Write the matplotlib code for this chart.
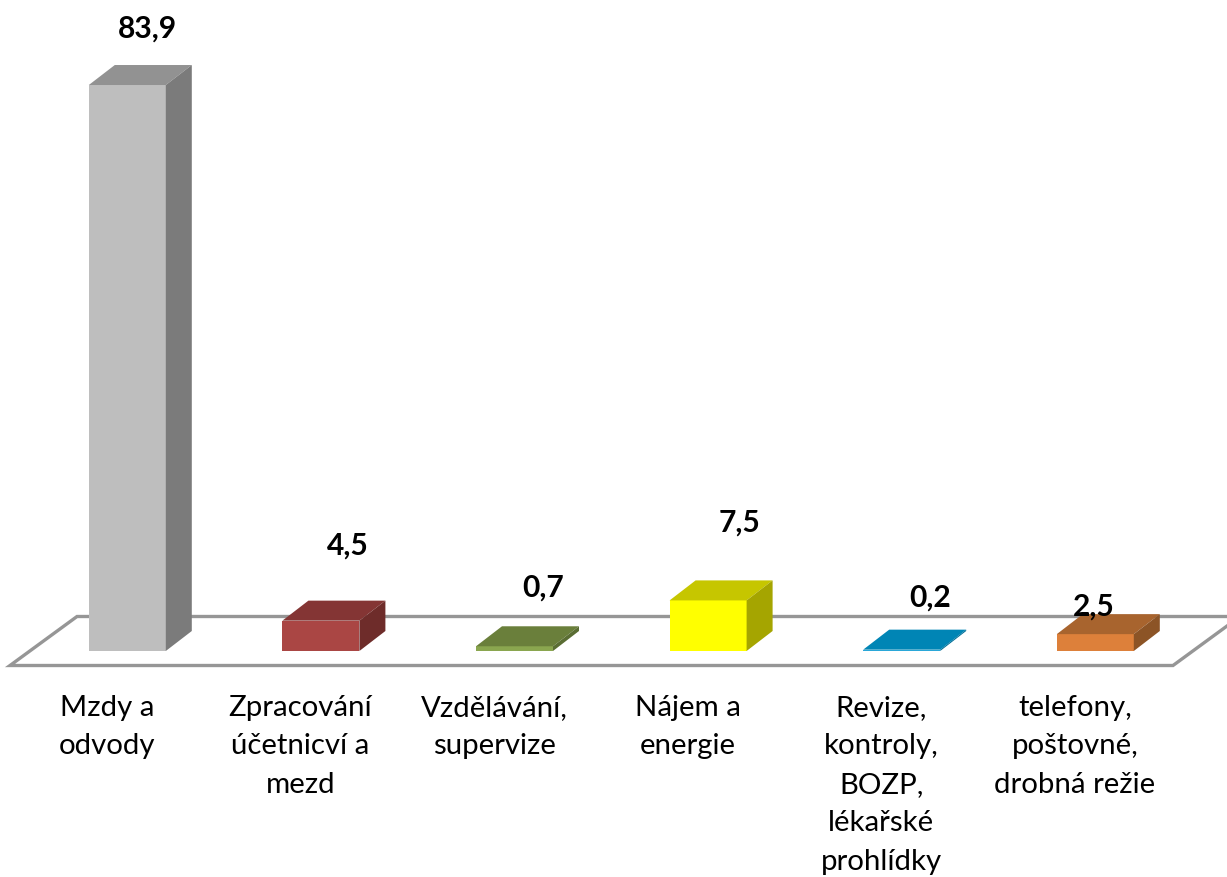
import matplotlib
matplotlib.use("Agg")
import matplotlib.pyplot as plt
from matplotlib.patches import Polygon

plt.rcParams['font.family'] = ['Lato', 'DejaVu Sans']

categories = ["Mzdy a\nodvody", "Zpracování\núčetnicví a\nmezd", "Vzdělávání,\nsupervize",
              "Nájem a\nenergie", "Revize,\nkontroly,\nBOZP,\nlékařské\nprohlídky",
              "telefony,\npoštovné,\ndrobná režie"]
values = [83.9, 4.5, 0.7, 7.5, 0.2, 2.5]
value_labels = ["83,9", "4,5", "0,7", "7,5", "0,2", "2,5"]

front_colors = ["#bebebe", "#aa4644", "#8aa64f", "#ffff00", "#2aa7d8", "#dd803a"]
top_colors = ["#929292", "#843534", "#6a7f3b", "#c6c600", "#0085b5", "#a8642e"]
side_colors = ["#7b7b7b", "#6e2c2a", "#5a6d33", "#a5a500", "#006f98", "#8c5426"]

# label offsets from the bar top, in pixels (the original placed them unevenly)
label_dx = [20.5, 26.5, 29, 31.5, 28, -2]
label_dy = [56, 75, 59, 78, 52, 28]

W, H = 1227, 877
PX_X = 193.6       # pixels per category
PX_Y = 6.746       # pixels per value unit
BASE = 651         # pixel row of value 0
X0 = 127.3         # pixel column of the first bar centre
AXES_BOTTOM = 690

fig = plt.figure(figsize=(W / 100, H / 100), dpi=100)
ax = fig.add_axes([0, 1 - AXES_BOTTOM / H, 1, AXES_BOTTOM / H])
ax.set_xlim(-X0 / PX_X, (W - X0) / PX_X)
ax.set_ylim((BASE - AXES_BOTTOM) / PX_Y, BASE / PX_Y)

bar_w = 77 / PX_X
dx = 26 / PX_X
dy = 20 / PX_Y


def px(x, y):
    return (x - X0) / PX_X, (BASE - y) / PX_Y


# floor
floor = [px(10, 665.5), px(77, 616.5), px(1240, 616.5), px(1173, 665.5)]
ax.add_patch(Polygon(floor, closed=True, facecolor="white", edgecolor="#969696", linewidth=2.4, zorder=1))

for i, v in enumerate(values):
    l = i - bar_w / 2
    r = i + bar_w / 2
    ax.bar(i, v, width=bar_w, color=front_colors[i], zorder=3)
    ax.add_patch(Polygon([(l, v), (r, v), (r + dx, v + dy), (l + dx, v + dy)], facecolor=top_colors[i], zorder=3))
    ax.add_patch(Polygon([(r, 0), (r + dx, dy), (r + dx, v + dy), (r, v)], facecolor=side_colors[i], zorder=3))
    ax.annotate(value_labels[i], (i, v), xytext=(label_dx[i] * 0.72, label_dy[i] * 0.72), textcoords="offset points",
                ha="center", va="center", fontsize=21.6, fontweight="bold", color="black", zorder=5)

ax.set_xticks([i - 20.5 / PX_X for i in range(len(categories))], categories)
ax.tick_params(axis="x", length=0, pad=3.5, labelsize=21.2)
for t in ax.get_xticklabels():
    t.set_linespacing(1.595)
ax.set_yticks([])
for s in ax.spines.values():
    s.set_visible(False)
ax.patch.set_alpha(0)

fig.savefig("out.png", dpi=100)
